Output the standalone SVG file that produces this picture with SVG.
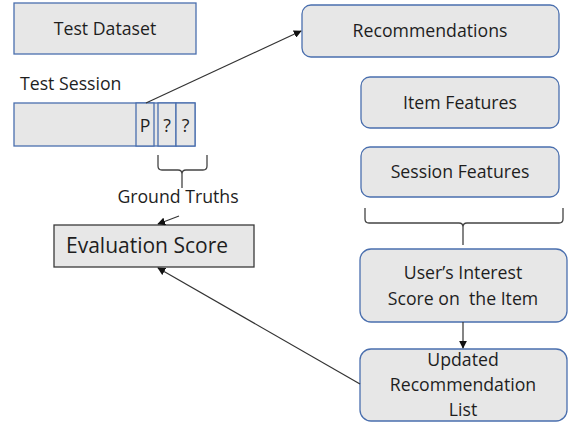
<svg xmlns="http://www.w3.org/2000/svg" width="573" height="423" viewBox="0 0 573 423">
  <defs>
    <style>
      .box { fill: #e7e7e7; stroke: #4a6fae; stroke-width: 1.3; }
      .dark { fill: #e7e7e7; stroke: #3a3a3a; stroke-width: 1.3; }
      .cell { fill: #e7e7e7; stroke: #4a6fae; stroke-width: 1.3; }
      text { font-family: "Open Sans", "Liberation Sans", sans-serif; fill: #1e1e1e; font-size: 17.7px; white-space: pre; }
      .c { text-anchor: middle; }
      .line { fill: none; stroke: #333; stroke-width: 1.2; }
      .brace { fill: none; stroke: #444; stroke-width: 1.3; }
    </style>
    <marker id="arrow" viewBox="0 0 10 10" refX="9" refY="5" markerWidth="8" markerHeight="8" markerUnits="userSpaceOnUse" orient="auto">
      <path d="M0,0 L10,5 L0,10 z" fill="#111"/>
    </marker>
  </defs>

  <!-- test dataset -->
  <g id="test-dataset">
    <rect class="box" x="14" y="3" width="182" height="51"/>
    <text class="c" x="105" y="35">Test Dataset</text>
  </g>

  <!-- test session bar with predicted item and ground truth cells -->
  <g id="test-session">
    <text x="20" y="90">Test Session</text>
    <rect class="cell" x="14" y="103" width="181" height="43"/>
    <rect class="cell" x="136" y="103" width="18" height="43"/>
    <rect class="cell" x="158" y="103" width="18" height="43"/>
    <rect class="cell" x="176" y="103" width="19" height="43"/>
    <text class="c" x="145" y="132">P</text>
    <text class="c" x="167" y="132">?</text>
    <text class="c" x="185.5" y="132">?</text>
  </g>

  <g id="ground-truths">
    <path class="brace" d="M158,155 V166 Q158,170 162,170 H178 Q182,170 182,174 V188 M182,174 Q182,170 186,170 H203 Q207,170 207,166 V155"/>
    <text class="c" x="178" y="203">Ground Truths</text>
  </g>

  <g id="evaluation-score">
    <rect class="dark" x="54" y="225" width="200" height="42"/>
    <text x="66" y="253" style="font-size:21px">Evaluation Score</text>
  </g>

  <g id="recommendations">
    <rect class="box" x="302" y="5" width="257" height="52" rx="9"/>
    <text class="c" x="430" y="37">Recommendations</text>
  </g>

  <g id="item-features">
    <rect class="box" x="361" y="77" width="198" height="51" rx="9"/>
    <text class="c" x="460" y="109">Item Features</text>
  </g>

  <g id="session-features">
    <rect class="box" x="361" y="147" width="198" height="50" rx="9"/>
    <text class="c" x="460" y="178">Session Features</text>
  </g>

  <g id="feature-brace">
    <path class="brace" d="M365,208 V219 Q365,223 369,223 H459 Q463,223 463,227 V245 M463,227 Q463,223 467,223 H559 Q563,223 563,219 V208"/>
  </g>

  <g id="interest-score">
    <rect class="box" x="360" y="249" width="207" height="73" rx="11"/>
    <text class="c" x="463" y="279">User’s Interest</text>
    <text class="c" x="463" y="305">Score on  the Item</text>
  </g>

  <g id="updated-list">
    <rect class="box" x="360" y="349" width="207" height="72" rx="11"/>
    <text class="c" x="463" y="366">Updated</text>
    <text class="c" x="463" y="391">Recommendation</text>
    <text class="c" x="463" y="416">List</text>
  </g>

  <!-- connectors -->
  <g id="connectors">
    <line class="line" x1="146" y1="103" x2="301" y2="31" marker-end="url(#arrow)"/>
    <line class="line" x1="179" y1="216" x2="158" y2="224" marker-end="url(#arrow)"/>
    <line class="line" x1="463" y1="322" x2="463" y2="348" marker-end="url(#arrow)"/>
    <line class="line" x1="360" y1="384" x2="158" y2="268" marker-end="url(#arrow)"/>
  </g>
</svg>
